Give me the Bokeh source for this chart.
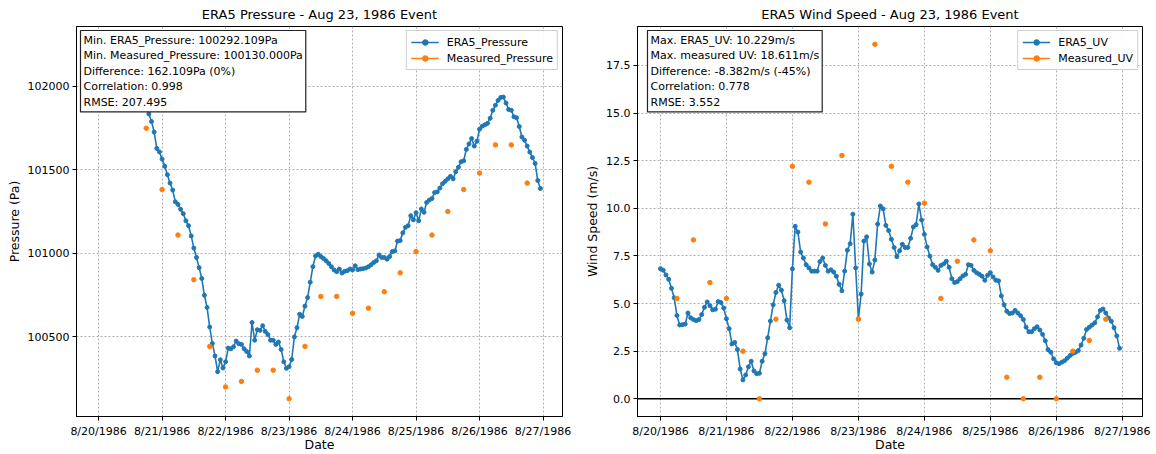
import numpy as np
import pandas as pd
from bokeh.plotting import figure
from bokeh.layouts import row
from bokeh.models import (Range1d, FixedTicker, SingleIntervalTicker, DatetimeTickFormatter,
                          NumeralTickFormatter, Label, Legend, LegendItem, Span)
from bokeh.embed import file_html
from bokeh.resources import INLINE

# ---------------------------------------------------------------- data
era5_start = "1986-08-20 00:00"          # hourly ERA5 series start
measured_pressure_start = "1986-08-20 18:00"  # 6-hourly station observations
measured_uv_start = "1986-08-20 06:00"

era5_pressure = [
    102250, 102244, 102237, 102229, 102221, 102212, 102203, 102192, 102181, 102168, 102154, 102139,
    102122, 102103, 102080, 102052, 102015, 101965, 101900, 101833, 101788, 101725, 101627, 101606,
    101563, 101520, 101470, 101420, 101378, 101308, 101292, 101263, 101237, 101194, 101165, 101104,
    101031, 100975, 100914, 100849, 100749, 100676, 100559, 100461, 100386, 100292.109, 100363, 100314,
    100351, 100433, 100429, 100441, 100475, 100459, 100455, 100429, 100412, 100386, 100586, 100480,
    100543, 100539, 100567, 100533, 100514, 100480, 100480, 100455, 100469, 100425, 100351, 100312,
    100322, 100365, 100500, 100555, 100635, 100622, 100684, 100735, 100827, 100920, 100984, 100994,
    100980, 100969, 100955, 100939, 100920, 100900, 100890, 100906, 100882, 100892, 100896, 100906,
    100900, 100925, 100902, 100906, 100908, 100912, 100920, 100931, 100945, 100955, 100990, 100975,
    100975, 100965, 100980, 101010, 101014, 101073, 101076, 101122, 101155, 101165, 101225, 101200,
    101243, 101194, 101265, 101245, 101304, 101318, 101327, 101363, 101367, 101390, 101416, 101430,
    101445, 101460, 101445, 101488, 101514, 101547, 101553, 101621, 101654, 101686, 101641, 101670,
    101742, 101760, 101768, 101777, 101807, 101855, 101885, 101914, 101932, 101934, 101898, 101860,
    101855, 101816, 101810, 101758, 101695, 101676, 101641, 101605, 101572, 101537, 101435, 101387,
]

measured_pressure = [
    101748, 101381, 101109, 100842, 100443, 100201, 100234, 100301, 100301, 100130, 100443, 100742,
    100742, 100641, 100672, 100770, 100883, 101010, 101109, 101250, 101381, 101480, 101648, 101648,
    101420,
]

era5_uv = [
    6.83, 6.75, 6.5, 6.27, 5.8, 5.3, 4.37, 3.87, 3.89, 3.92, 4.5, 4.25,
    4.16, 4.1, 4.16, 4.42, 4.8, 5.08, 4.88, 4.67, 4.7, 5.1, 5.05, 4.76,
    4.2, 3.68, 2.88, 2.96, 2.59, 1.56, 0.99, 1.25, 1.68, 1.97, 1.46, 1.32,
    1.34, 1.97, 2.36, 3.2, 4.08, 4.93, 5.58, 5.96, 5.7, 5.15, 4.13, 3.73,
    6.82, 9.05, 8.75, 7.7, 7.39, 7.04, 6.87, 6.7, 6.7, 6.7, 7.2, 7.39,
    7.0, 6.7, 6.77, 6.65, 6.43, 6.01, 5.67, 6.7, 7.8, 8.14, 9.69, 6.87,
    4.19, 5.5, 8.28, 8.5, 7.08, 6.65, 7.28, 9.17, 10.12, 9.97, 9.1, 8.83,
    8.37, 7.94, 7.46, 7.77, 8.11, 7.94, 7.94, 8.42, 9.02, 9.14, 10.229, 9.38,
    8.63, 7.97, 7.49, 7.04, 6.9, 6.74, 7.0, 7.08, 7.22, 6.9, 6.3, 6.1,
    6.15, 6.3, 6.45, 6.53, 7.04, 7.0, 6.74, 6.62, 6.53, 6.43, 6.22, 6.48,
    6.62, 6.39, 6.22, 6.19, 5.4, 4.93, 4.59, 4.47, 4.5, 4.64, 4.5, 4.36,
    4.16, 3.76, 3.52, 3.52, 3.68, 3.78, 3.61, 3.38, 3.04, 2.58, 2.44, 2.1,
    1.89, 1.84, 1.92, 2.0, 2.13, 2.27, 2.38, 2.44, 2.53, 2.82, 3.18, 3.64,
    3.76, 3.87, 3.99, 4.3, 4.64, 4.71, 4.5, 4.24, 4.07, 3.73, 3.3, 2.65,
]

measured_uv = [
    5.27, 8.34, 6.1, 5.27, 2.5, 0.0, 4.18, 12.2, 11.37, 9.18, 12.77, 4.18,
    18.611, 12.2, 11.37, 10.27, 5.27, 7.22, 8.34, 7.77, 1.13, 0.0, 1.13, 0.0,
    2.5, 3.06, 4.18,
]

tick_dates = ["1986-08-20", "1986-08-21", "1986-08-22", "1986-08-23",
              "1986-08-24", "1986-08-25", "1986-08-26", "1986-08-27"]

pressure_corr, pressure_rmse = "0.998", "207.495"
uv_corr, uv_rmse = "0.778", "3.552"

# ---------------------------------------------------------------- helpers
BLUE, ORANGE = "#1f77b4", "#ff7f0e"
FONT = "DejaVu Sans"


def to_ms(index):
    return (pd.DatetimeIndex(index).astype("int64") // 10**6).astype(float).to_numpy()


era5_t = to_ms(pd.date_range(era5_start, periods=len(era5_pressure), freq="h"))
mp_t = to_ms(pd.date_range(measured_pressure_start, periods=len(measured_pressure), freq="6h"))
mu_t = to_ms(pd.date_range(measured_uv_start, periods=len(measured_uv), freq="6h"))
tick_ms = list(to_ms(pd.to_datetime(tick_dates)))

t_pad = 0.05 * (era5_t.max() - era5_t.min())
x_lo, x_hi = era5_t.min() - t_pad, era5_t.max() + t_pad


def padded(*series):
    vals = np.concatenate([np.asarray(s, dtype=float) for s in series])
    lo, hi = vals.min(), vals.max()
    pad = 0.05 * (hi - lo)
    return lo - pad, hi + pad


def gapped(t, v):
    # isolated points separated by NaN: a line renderer that only shows in the legend
    xs, ys = [], []
    for a, b in zip(t, v):
        xs += [a, np.nan]
        ys += [b, np.nan]
    return xs, ys


def make_panel(title, ylabel, width, b_left, b_right, y_rng, interval, fmt,
               t_era, v_era, t_meas, v_meas, names, box_text, box_dx):
    p = figure(width=width, height=454, x_axis_type="datetime",
               x_range=Range1d(x_lo, x_hi), y_range=Range1d(*y_rng),
               output_backend="svg", toolbar_location=None,
               min_border_left=b_left, min_border_right=b_right,
               min_border_top=25, min_border_bottom=30,
               background_fill_color="white", border_fill_color="white")
    p.title.text = title
    p.title.align = "center"
    p.title.text_font = FONT
    p.title.text_font_size = "13px"
    p.title.text_font_style = "normal"
    p.title.text_color = "black"
    p.title.standoff = 9

    p.outline_line_color = "black"
    p.outline_line_width = 1

    p.xaxis.ticker = FixedTicker(ticks=tick_ms)
    fmt_date = "%-m/%-d/%Y"
    p.xaxis.formatter = DatetimeTickFormatter(hours=fmt_date, days=fmt_date, months=fmt_date,
                                              years=fmt_date)
    p.yaxis.ticker = SingleIntervalTicker(interval=interval)
    p.yaxis.formatter = NumeralTickFormatter(format=fmt)
    p.xaxis.axis_label = "Date"
    p.yaxis.axis_label = ylabel
    for ax in (p.xaxis, p.yaxis):
        ax.axis_label_text_font = FONT
        ax.axis_label_text_font_size = "12.5px"
        ax.axis_label_text_font_style = "normal"
        ax.axis_label_text_color = "black"
        ax.axis_label_standoff = 3
        ax.major_label_text_font = FONT
        ax.major_label_text_font_size = "11px"
        ax.major_label_text_color = "black"
        ax.major_label_standoff = 3
        ax.axis_line_color = "black"
        ax.major_tick_line_color = "black"
        ax.major_tick_out = 4
        ax.major_tick_in = 0
        ax.minor_tick_line_color = None
    p.xaxis.axis_label_standoff = -4
    p.xaxis.major_label_standoff = 4

    p.grid.grid_line_color = "#b0b0b0"
    p.grid.grid_line_dash = "2 2"
    p.grid.grid_line_width = 1

    l_era = p.line(t_era, v_era, line_color=BLUE, line_width=1.6)
    s_era = p.scatter(t_era, v_era, size=4, fill_color=BLUE, line_color=BLUE)
    gx, gy = gapped(t_meas, v_meas)
    l_meas = p.line(gx, gy, line_color=ORANGE, line_width=1.6)
    s_meas = p.scatter(t_meas, v_meas, size=4.5, fill_color=ORANGE, line_color=ORANGE)

    legend = Legend(items=[LegendItem(label=names[0], renderers=[l_era, s_era]),
                           LegendItem(label=names[1], renderers=[l_meas, s_meas])],
                    location="top_right", margin=4, padding=4, spacing=2,
                    glyph_width=28, glyph_height=14, label_standoff=8,
                    label_text_font=FONT, label_text_font_size="11px",
                    label_text_color="black", border_line_color="#a0a0a0",
                    border_line_width=1, background_fill_color="white",
                    background_fill_alpha=0.9)
    p.add_layout(legend)

    box = Label(x=x_lo, y=y_rng[1], x_offset=box_dx, y_offset=-4, anchor="top_left",
                text=box_text, text_font=FONT, text_font_size="11px", text_color="black",
                background_fill_color="white", border_line_color="#222222",
                border_line_width=1.2, padding=3)
    p.add_layout(box)
    return p


# ---------------------------------------------------------------- pressure panel
min_era5_p = min(era5_pressure)
min_meas_p = min(measured_pressure)
diff_p = min_era5_p - min_meas_p
p_text = "\n".join([
    f"Min. ERA5_Pressure: {min_era5_p:.3f}Pa",
    f"Min. Measured_Pressure: {min_meas_p:.3f}Pa",
    f"Difference: {diff_p:.3f}Pa ({diff_p / min_meas_p * 100:.0f}%)",
    f"Correlation: {pressure_corr}",
    f"RMSE: {pressure_rmse}",
])
p1 = make_panel("ERA5 Pressure - Aug 23, 1986 Event", "Pressure (Pa)", 580, 76, 18,
                padded(era5_pressure, measured_pressure), 500, "0",
                era5_t, era5_pressure, mp_t, measured_pressure,
                ("ERA5_Pressure", "Measured_Pressure"), p_text, 4)

# ---------------------------------------------------------------- wind panel
max_era5_uv = max(era5_uv)
max_meas_uv = max(measured_uv)
diff_uv = max_era5_uv - max_meas_uv
uv_text = "\n".join([
    f"Max. ERA5_UV: {max_era5_uv:.3f}m/s",
    f"Max. measured UV: {max_meas_uv:.3f}m/s",
    f"Difference: {diff_uv:.3f}m/s ({diff_uv / max_meas_uv * 100:.0f}%)",
    f"Correlation: {uv_corr}",
    f"RMSE: {uv_rmse}",
])
p2 = make_panel("ERA5 Wind Speed - Aug 23, 1986 Event", "Wind Speed (m/s)", 576, 57, 14,
                padded(era5_uv, measured_uv), 2.5, "0.0",
                era5_t, era5_uv, mu_t, measured_uv,
                ("ERA5_UV", "Measured_UV"), uv_text, 10)
p2.add_layout(Span(location=0, dimension="width", line_color="black", line_width=1.5,
                   level="underlay"))

layout = row(p1, p2)
open("out.html", "w").write(file_html(layout, INLINE, title="ERA5 vs measured"))
